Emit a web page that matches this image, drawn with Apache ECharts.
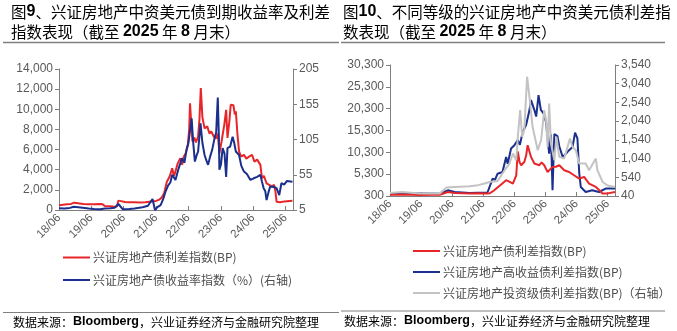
<!DOCTYPE html>
<html><head><meta charset="utf-8">
<script src="https://cdn.jsdelivr.net/npm/echarts@6/dist/echarts.min.js"></script>
<style>html,body{margin:0;padding:0;background:#fff}#c{width:677px;height:331px}</style>
</head><body><div id="c"></div>
<script>
// x values: months since June 2018 (0 = 18/06)
const xTickLabels = ['18/06','19/06','20/06','21/06','22/06','23/06','24/06','25/06'];

// Figure 9 — spread index (BP, left axis)
const f9SpreadT = [0,1.5,3,4.5,5.6,7,9,11,13,15.3,16.2,17,19,20.7,21.5,22,23,24.5,26,28,30,32,33.5,35,36,37,38,39,40,41,42,42.6,43,44,45,45.6,46.3,47,47.8,48.3,48.6,49,49.5,50.2,50.8,51.6,52.1,52.6,53.2,54,55,55.8,56.5,57.4,58.3,58.9,59.5,60.3,61.3,62,62.5,63.2,63.7,64.7,65.2,65.6,66.2,66.8,67.6,68.6,69.5,70.5,71.6,72.5,73.5,74.7,75.3,76,77,78,79,79.8,80.3,80.7,82,83,84.5,86.6];
const f9SpreadV = [480,520,560,600,730,680,600,560,580,600,560,400,380,330,350,930,880,800,760,780,740,760,830,880,900,1000,1200,1660,2800,3300,4150,3400,3650,4600,5150,4500,5300,5640,6500,8000,10600,8800,6800,7200,6700,7300,9000,12100,9200,8100,8300,7600,7800,7300,7100,7600,5640,6800,8450,9950,7150,8800,10450,10400,9500,9800,7500,5800,5300,5470,5100,5300,5470,4800,5000,4480,3150,3400,2650,2500,2320,2500,1800,830,780,830,880,930];
// Figure 9 — yield index (%, right axis)
const f9YieldT = [0,2,4,5.5,8,11,13,15.3,17,19,20.7,22,22.8,23.7,26,28,31,33,34.7,35.6,36.5,37.7,38.6,39.5,40.5,41.3,42,43.2,44.3,45.6,46.5,47.3,48,48.6,49.2,49.8,50.4,51,51.6,52.1,52.5,53.2,54,54.6,55.3,56,56.8,57.7,58.3,58.9,59.3,59.5,60.1,60.7,61.4,62,62.5,63.5,64.4,65,65.6,66.2,66.8,67.6,68.6,69.7,71,72.2,73.5,74.7,75.3,75.9,76.5,77,77.7,78.3,79.4,80.7,81.7,82.5,83.5,84.5,86.6];
const f9YieldV = [7.4,7,8,9.7,8.5,7,6.5,6,7,7.5,8.3,13.5,10,6,6.5,7.2,8.8,11,20.6,5,9,12,20,31,40,44,55,47.6,63,78.5,72,90,100,102,135,100,73.7,82,88,110,128,100,83,76,69,80,90,107,115,164.6,110,62,70,92.7,85,52,92.7,95,109,100,88,86,83,68,59.5,56,47.6,50,52,55,45,36,32,19,30,38,38,36,26,43,41,46,45];

// Figure 10 — overall spread index (BP, left axis)
const f10AllT = [0,5,11.5,16,19.2,22.3,25,30.7,34,37.6,38.4,40,41,43,44.8,46,47.4,48,48.7,49.3,50,50.6,51.8,52.5,53.1,54.4,55.7,57.6,58.5,59.5,60.8,62.7,64,65.3,67.2,69.1,71,73,74.9,76.8,78,79.4,81,82,84,86.8];
const f10AllV = [600,650,550,580,600,1200,1000,900,950,850,900,1500,2000,3000,3900,3600,3150,3500,5000,10500,8000,7350,8100,9500,11940,9250,7740,7350,8000,7350,5800,6960,7000,7350,6200,5800,5050,4300,4660,3150,2800,2370,1500,850,900,1200];
// Figure 10 — high-yield spread index (BP, left axis)
const f10HyT = [0,5,11.5,16,19,22.3,25,30.7,34,37.6,39.6,40.5,41.5,43.4,44.8,45.4,46.7,48,49.3,50.1,51.2,52.5,53.8,54.4,55.7,56.4,57.3,58.2,59.5,60.2,61.4,62.1,62.7,63.4,64.6,65.3,66.6,67.9,69.1,70.4,71.4,72.3,73,73.6,75.5,78,80.6,83.2,86.8];
const f10HyV = [900,1000,850,900,800,1600,1200,1000,1050,1100,4300,4000,5400,5800,9250,7700,11180,11940,13090,12000,14990,16530,19980,22270,19980,18500,23400,20000,19000,17100,10000,14400,1600,14500,14000,11700,9250,10000,10800,11500,14800,13500,5600,2370,1220,1600,1220,2000,2000];
// Figure 10 — investment-grade spread index (BP, right axis)
const f10IgT = [0,4.6,8,11.5,16,19.2,21.8,25,30.7,34,36.5,38.4,41.5,44.2,46.1,47.4,48.7,49.3,50.2,51,51.8,52.9,53.8,55,57,58.3,59.5,60.2,60.8,61.4,62.1,63.4,64.2,65.3,67.2,68.5,69.4,70.4,71.7,73,75.5,76.8,79.4,80,82,84,86.8];
const f10IgV = [120,150,130,104,115,110,265,280,300,330,372,415,440,730,907,1175,996,1620,2335,1620,1800,3227,2690,1888,1264,1530,2335,2067,1352,2513,1443,996,1620,1084,1040,1352,1577,1352,1264,907,907,730,1040,730,415,320,280];

const yTicksF9L = {min:0, max:14000, step:2000};
const yTicksF9R = {min:5, max:205, step:50};
const yTicksF10L = {min:300, max:30300, step:5000};
const yTicksF10R = {min:40, max:3540, step:500};

const pairs = (t, v) => t.map((x, i) => [x, v[i]]);
const RED = '#e8262a', BLUE = '#1b2f8c', GRAY = '#c3c3c3';
const AX = '#7f7f7f', LBL = '#595959';
const NUM = 'Liberation Sans, Arial, sans-serif';
const CJK = 'Noto Sans CJK SC, sans-serif';
const fmt = v => Number(v).toLocaleString('en-US');

function xAxis(gi) {
  return {
    type:'value', gridIndex:gi, min:0, max:86.8, interval:12,
    axisLine:{show:true, lineStyle:{color:AX, width:1}},
    axisTick:{show:true, inside:true, length:4, lineStyle:{color:AX}},
    splitLine:{show:false},
    axisLabel:{rotate:45, color:LBL, fontFamily:NUM, fontSize:11.5, margin:6, showMaxLabel:false,
      formatter: v => { const i = Math.round(v/12); return (Math.abs(v - i*12) < 0.01 && xTickLabels[i]) ? xTickLabels[i] : ''; }}
  };
}
function yAxis(gi, t, pos) {
  return {
    type:'value', gridIndex:gi, position:pos, min:t.min, max:t.max, interval:t.step,
    axisLine:{show:true, lineStyle:{color:AX, width:1}},
    axisTick:{show:true, length:4, lineStyle:{color:AX}},
    splitLine:{show:false},
    axisLabel:{color:LBL, fontFamily:NUM, fontSize:12, margin:6, formatter: fmt}
  };
}
function line(name, color, xi, yi, data, w) {
  return {name, type:'line', xAxisIndex:xi, yAxisIndex:yi, data, showSymbol:false, symbol:'none',
    lineStyle:{color, width:w||2}, itemStyle:{color}, animation:false, z: 2};
}
function legendRow(x, y, color, text) {
  return [
    {type:'line', shape:{x1:x, y1:y, x2:x+27, y2:y}, style:{stroke:color, lineWidth:2}},
    {type:'text', x:x+30, y:y, style:{text, fill:'#4d4d4d', font:'12px ' + CJK, verticalAlign:'middle', align:'left'}}
  ];
}
const titleRich = {
  n:{fontFamily:CJK, fontSize:15.5, color:'#262626', fontWeight:'normal'},
  b:{fontFamily:NUM, fontSize:16, color:'#262626', fontWeight:'bold'}
};
function titleText(x, y, rich) {
  return {type:'text', x, y, style:{rich:titleRich, text:rich, verticalAlign:'middle', align:'left'}};
}
const srcRich = {
  n:{fontFamily:CJK, fontSize:12, color:'#404040'},
  b:{fontFamily:NUM, fontSize:12.5, color:'#262626', fontWeight:'bold'}
};

const chart = echarts.init(document.getElementById('c'), null, {renderer:'canvas'});
chart.setOption({
  animation:false,
  backgroundColor:'#fff',
  grid:[
    {left:59, right:384, top:69, bottom:121},
    {left:390, right:62, top:65, bottom:135}
  ],
  xAxis:[xAxis(0), xAxis(1)],
  yAxis:[
    yAxis(0, yTicksF9L, 'left'), yAxis(0, yTicksF9R, 'right'),
    yAxis(1, yTicksF10L, 'left'), yAxis(1, yTicksF10R, 'right')
  ],
  series:[
    line('兴证房地产债利差指数(BP)', RED, 0, 0, pairs(f9SpreadT, f9SpreadV)),
    line('兴证房地产债收益率指数（%）(右轴)', BLUE, 0, 1, pairs(f9YieldT, f9YieldV)),
    line('兴证房地产高收益债利差指数(BP)', BLUE, 1, 2, pairs(f10HyT, f10HyV)),
    line('兴证房地产债利差指数(BP) ', RED, 1, 2, pairs(f10AllT, f10AllV)),
    line('兴证房地产投资级债利差指数(BP)（右轴）', GRAY, 1, 3, pairs(f10IgT, f10IgV))
  ],
  graphic:[
    titleText(11, 12, '{n|图}{b|9}{n|、兴证房地产中资美元债到期收益率及利差}'),
    titleText(11, 32, '{n|指数表现（截至 }{b|2025}{n| 年 }{b|8}{n| 月末）}'),
    titleText(343, 12, '{n|图}{b|10}{n|、不同等级的兴证房地产中资美元债利差指}'),
    titleText(343, 32, '{n|数表现（截至 }{b|2025}{n| 年 }{b|8}{n| 月末）}'),
    {type:'line', shape:{x1:3, y1:42.5, x2:339, y2:42.5}, style:{stroke:'#7f7f7f', lineWidth:1.5}},
    {type:'line', shape:{x1:341, y1:42.5, x2:665, y2:42.5}, style:{stroke:'#7f7f7f', lineWidth:1.5}},
    ...legendRow(63, 257.5, RED, '兴证房地产债利差指数(BP)'),
    ...legendRow(63, 280, BLUE, '兴证房地产债收益率指数（%）(右轴)'),
    ...legendRow(413, 251, RED, '兴证房地产债利差指数(BP)'),
    ...legendRow(413, 272, BLUE, '兴证房地产高收益债利差指数(BP)'),
    ...legendRow(413, 293, GRAY, '兴证房地产投资级债利差指数(BP)（右轴）'),
    {type:'line', shape:{x1:3, y1:312.5, x2:339, y2:312.5}, style:{stroke:'#7f7f7f', lineWidth:1.2}},
    {type:'line', shape:{x1:341, y1:311, x2:665, y2:311}, style:{stroke:'#7f7f7f', lineWidth:1.2}},
    {type:'text', x:13, y:322, style:{rich:srcRich, text:'{n|数据来源：}{b|Bloomberg}{n|，兴业证券经济与金融研究院整理}', verticalAlign:'middle'}},
    {type:'text', x:344, y:321, style:{rich:srcRich, text:'{n|数据来源：}{b|Bloomberg}{n|，兴业证券经济与金融研究院整理}', verticalAlign:'middle'}}
  ]
});
</script></body></html>
